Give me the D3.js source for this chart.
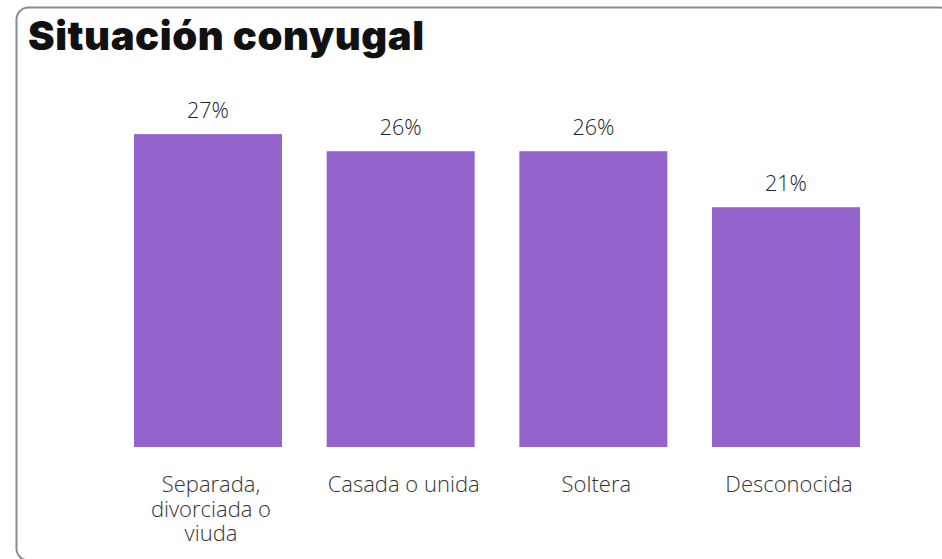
<!DOCTYPE html>
<html>
<head>
<meta charset="utf-8">
<script src="https://cdn.jsdelivr.net/npm/d3@7"></script>
<style>
  html, body { margin: 0; padding: 0; background: #fff; }
  svg { display: block; }
</style>
</head>
<body>
<svg id="chart" width="942" height="559"></svg>
<script>
const title = "Situación conyugal";
const categories = [["Separada,", "divorciada o", "viuda"], ["Casada o unida"], ["Soltera"], ["Desconocida"]];
const values = [27.4, 25.9, 25.9, 21.0];
const valueLabels = ["27%", "26%", "26%", "21%"];

const svg = d3.select("#chart");

// card border
svg.append("rect")
  .attr("x", 16.5).attr("y", 7.5)
  .attr("width", 935).attr("height", 553)
  .attr("rx", 12).attr("ry", 12)
  .attr("fill", "#fff")
  .attr("stroke", "#8c8c8c")
  .attr("stroke-width", 2);

// title
const t = svg.append("text")
  .attr("x", 28).attr("y", 50)
  .attr("font-family", "Inter, 'Open Sans', sans-serif")
  .attr("font-weight", 900)
  .attr("font-size", 40)
  .attr("fill", "#111")
  .text(title);
const tw = t.node().getComputedTextLength();
const n = title.length;
t.attr("letter-spacing", (396 - tw) / (n - 1));

const idx = d3.range(categories.length);
const x = d3.scaleBand().domain(idx).range([134, 860]).paddingInner(0.232).paddingOuter(0);
const y = d3.scaleLinear().domain([0, 30]).range([447, 447 - 30 * 11.42]);

svg.append("g").selectAll("rect").data(idx).join("rect")
  .attr("x", i => x(i))
  .attr("y", i => y(values[i]))
  .attr("width", x.bandwidth())
  .attr("height", i => y(0) - y(values[i]))
  .attr("fill", "#9464cc");

svg.append("g").selectAll("text").data(idx).join("text")
  .attr("x", i => x(i) + x.bandwidth() / 2)
  .attr("y", i => y(values[i]) - 16)
  .attr("text-anchor", "middle")
  .attr("font-family", "'Open Sans', sans-serif")
  .attr("font-weight", 300)
  .attr("font-size", 21.5)
  .attr("fill", "#222")
  .text(i => valueLabels[i]);

const cat = svg.append("g").selectAll("text").data(idx).join("text")
  .attr("x", i => x(i) + x.bandwidth() / 2 + 3)
  .attr("y", 492)
  .attr("text-anchor", "middle")
  .attr("font-family", "'Open Sans', sans-serif")
  .attr("font-weight", 300)
  .attr("font-size", 22)
  .attr("fill", "#333");
cat.selectAll("tspan").data(i => categories[i].map(s => ({s, i}))).join("tspan")
  .attr("x", d => x(d.i) + x.bandwidth() / 2 + 3)
  .attr("dy", (d, j) => j === 0 ? 0 : 24.5)
  .text(d => d.s);
</script>
</body>
</html>
